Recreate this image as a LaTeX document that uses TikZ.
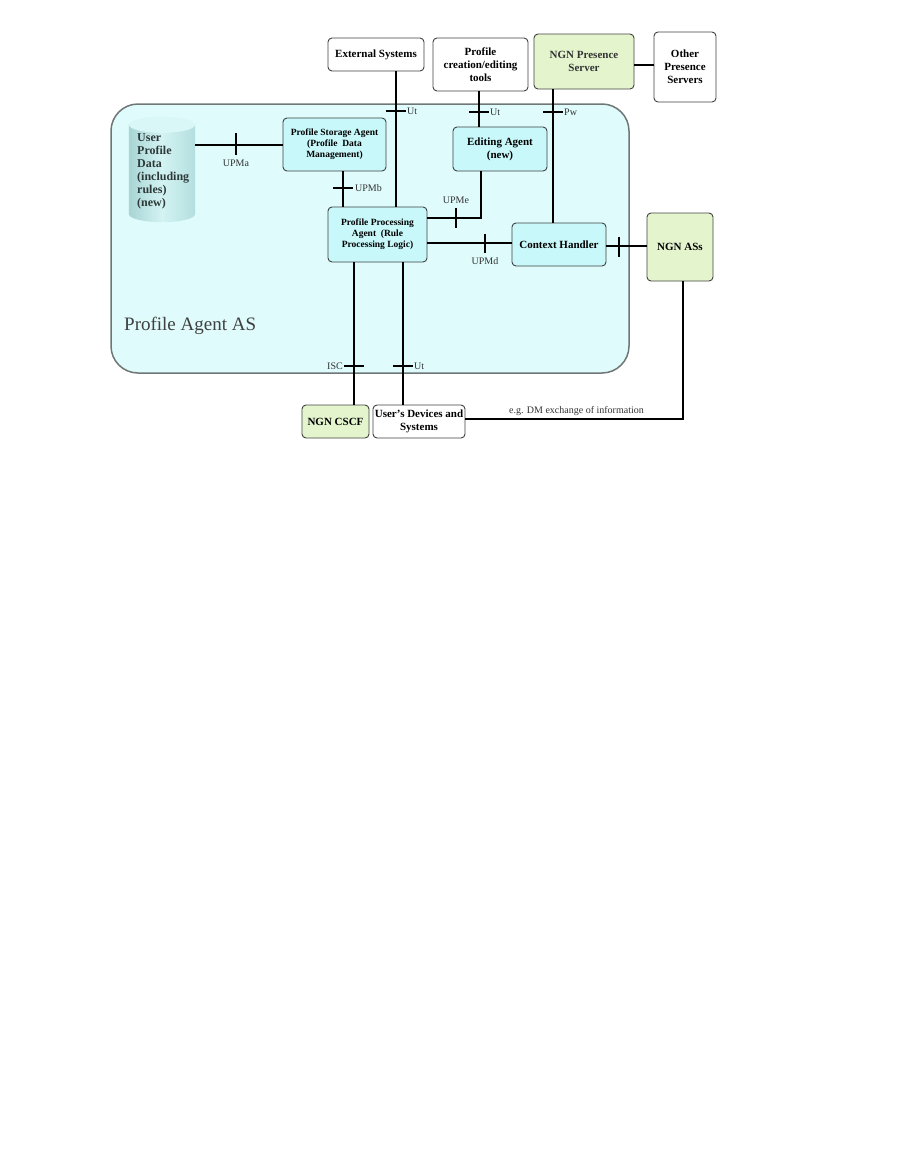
\documentclass[tikz,border=0pt]{standalone}
\usepackage{fontspec}
\setmainfont{Liberation Serif}
\usetikzlibrary{positioning,calc}
\definecolor{asfill}{RGB}{223,251,251}
\definecolor{asline}{RGB}{110,118,118}
\definecolor{agentfill}{RGB}{200,248,250}
\definecolor{ngnfill}{RGB}{228,245,206}
\definecolor{cylleft}{RGB}{168,212,212}
\definecolor{cylmid}{RGB}{212,243,243}
\definecolor{cylright}{RGB}{180,222,222}
\definecolor{cyltop}{RGB}{218,247,247}
\definecolor{cyltext}{RGB}{45,56,56}
\begin{document}
\begin{tikzpicture}[x=1pt,y=-1pt,
  box/.style={draw=black!75, line width=0.9pt, rounded corners=4pt, fill=white,
    inner sep=1pt, align=center, font=\bfseries\fontsize{11}{13}\selectfont},
  agent/.style={box, fill=agentfill},
  ngn/.style={box, fill=ngnfill},
  smalltext/.style={font=\bfseries\fontsize{9.5}{11}\selectfont},
  link/.style={line width=2pt},
  tick/.style={line width=2pt},
  lbl/.style={font=\fontsize{10}{11}\selectfont, text=black!80, inner sep=1pt}]
\useasboundingbox (0,0) rectangle (901,1154);

\draw[fill=asfill, draw=asline, line width=1.5pt, rounded corners=27pt] (111,104) rectangle (629,373);
\node[anchor=base west, font=\fontsize{19}{22}\selectfont, text=black!75, inner sep=0pt] (astitle) at (124,330) {Profile Agent AS};

\node[minimum width=66, minimum height=89, inner sep=0pt] (cyl) at (162,169.5) {};
\shade[left color=cylleft, right color=cylright, middle color=cylmid] (cyl.north west) rectangle (cyl.south east);
\shade[left color=cylleft, right color=cylright, middle color=cylmid] (cyl.south) ellipse [x radius=33, y radius=8];
\fill[cyltop] (cyl.north) ellipse [x radius=33, y radius=8];
\node[anchor=north west, align=left, inner sep=0pt, text=cyltext, font=\bfseries\fontsize{12}{13}\selectfont] (upd) at (137,133) {User\\Profile\\Data\\(including\\rules)\\(new)};

\node[box, minimum width=96, minimum height=33] (ext) at (376,54.5) {External Systems};
\node[box, minimum width=95, minimum height=53] (tools) at (480.5,64.5) {Profile\\creation/editing\\tools};
\node[ngn, minimum width=100, minimum height=55, text=black!80] (nps) at (584,61.5) {NGN Presence\\Server};
\node[box, minimum width=62, minimum height=70] (ops) at (685,67) {Other\\Presence\\Servers};
\node[agent, smalltext, minimum width=103, minimum height=53] (psa) at (334.5,144.5) {Profile Storage Agent\\(Profile~ Data\\Management)};
\node[agent, minimum width=94, minimum height=44] (ea) at (500,149) {Editing Agent\\(new)};
\node[agent, smalltext, minimum width=99, minimum height=55] (ppa) at (377.5,234.5) {Profile Processing\\Agent~ (Rule\\Processing Logic)};
\node[agent, minimum width=94, minimum height=43] (ch) at (559,244.5) {Context Handler};
\node[ngn, minimum width=66, minimum height=68] (nas) at (680,247) {NGN ASs};
\node[ngn, minimum width=67, minimum height=33] (cscf) at (335.5,421.5) {NGN CSCF};
\node[box, minimum width=92, minimum height=33] (ud) at (419,421.5) {User's Devices and\\Systems};

\coordinate (xb) at (343,0);
\coordinate (xu) at (396,0);
\coordinate (xt) at (479,0);
\coordinate (xp) at (553,0);
\coordinate (xe) at (481,0);
\coordinate (xi) at (354,0);
\coordinate (xd) at (403,0);
\coordinate (xn) at (683,0);
\coordinate (yo) at (0,65);
\coordinate (ye) at (0,218);
\coordinate (yd) at (0,243);
\coordinate (yn) at (0,246);
\coordinate (yx) at (0,419);

\draw[link] (psa.west) -- (psa.west -| cyl.east);
\draw[link] (psa.south -| xb) -- (ppa.north -| xb);
\draw[link] (ext.south -| xu) -- (ppa.north -| xu);
\draw[link] (tools.south -| xt) -- (ea.north -| xt);
\draw[link] (nps.south -| xp) -- (ch.north -| xp);
\draw[link] (nps.east |- yo) -- (ops.west |- yo);
\draw[link] (ea.south -| xe) |- (ppa.east |- ye);
\draw[link] (ppa.east |- yd) -- (ch.west |- yd);
\draw[link] (ch.east |- yn) -- (nas.west |- yn);
\draw[link] (ppa.south -| xi) -- (cscf.north -| xi);
\draw[link] (ppa.south -| xd) -- (ud.north -| xd);
\draw[link] (nas.south -| xn) |- (ud.east |- yx);

\draw[tick] (236,133) -- ++(0,22);
\node[lbl] (upma) at (236,163) {UPMa};
\draw[tick] (333,188) -- ++(20,0);
\node[lbl, anchor=west] (upmb) at (354,188) {UPMb};
\draw[tick] (386,111) -- ++(20,0);
\node[lbl, anchor=west] (utext) at (406,111) {Ut};
\draw[tick] (469,112) -- ++(20,0);
\node[lbl, anchor=west] (uttools) at (489,112) {Ut};
\draw[tick] (543,112) -- ++(20,0);
\node[lbl, anchor=west] (pw) at (563,112) {Pw};
\draw[tick] (456,208) -- ++(0,20);
\node[lbl] (upme) at (456,200) {UPMe};
\draw[tick] (485,234) -- ++(0,19);
\node[lbl] (upmd) at (485,261) {UPMd};
\draw[tick] (619,237) -- ++(0,20);
\draw[tick] (344,366) -- ++(20,0);
\node[lbl, anchor=east] (isc) at (344,366) {ISC};
\draw[tick] (393,366) -- ++(20,0);
\node[lbl, anchor=west] (utdev) at (413,366) {Ut};
\node[lbl] (dm) at (576.5,411) {e.g. DM exchange of information};
\end{tikzpicture}
\end{document}
